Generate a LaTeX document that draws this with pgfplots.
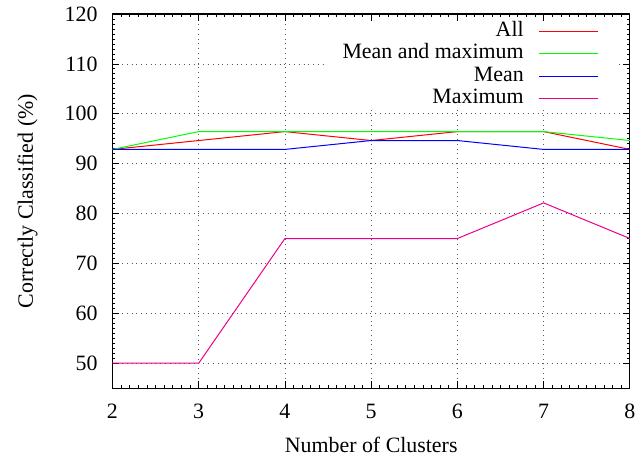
\documentclass[border=0pt]{standalone}
\usepackage{pgfplots}
\pgfplotsset{compat=1.18}
\usepackage{fontspec}
\setmainfont{Liberation Serif}
\begin{document}
\begin{tikzpicture}
\begin{axis}[
  name=ax,
  scale only axis,
  width=260pt, height=188pt,
  xmin=2, xmax=8, ymin=45, ymax=120,
  xtick={2,3,4,5,6,7,8},
  ytick={50,60,70,80,90,100,110,120},
  minor x tick num=9,
  minor y tick num=9,
  tick align=inside,
  major tick length=3.5pt,
  minor tick length=1.4pt,
  tick style={black, line width=0.4pt},
  axis line style={black, line width=0.6pt},
  grid=major,
  major grid style={dotted, gray!70!black, line width=0.4pt},
  /pgf/number format/assume math mode=true,
  tick label style={font=\fontsize{11}{13}\selectfont},
  xticklabel style={yshift=-4.5pt},
  yticklabel style={xshift=-4pt},
  label style={font=\fontsize{11}{13}\selectfont},
  xlabel={Number of Clusters},
  ylabel={Correctly Classified (\%)},
  xlabel style={at={(axis description cs:0.5,-0.1729)}, anchor=base},
  ylabel style={at={(axis description cs:-0.1538,0.5)}, anchor=base, rotate=0},
  legend plot pos=right,
  legend cell align=right,
  legend image code/.code={\draw[#1] (0pt,0pt) -- (29.5pt,0pt);},
  legend style={draw=none, fill=white, at={(rel axis cs:0.9744,0.9809)}, anchor=north east,
    font=\fontsize{11}{13}\selectfont, row sep=1.2pt, column sep=7.5pt,
    inner xsep=9pt, inner ysep=0pt,
    nodes={inner sep=0pt, text height=7.5pt, text depth=2.5pt}},
  every axis plot/.append style={line width=0.5pt},
]
\addplot[red] coordinates {(2,92.86) (3,94.64) (4,96.43) (5,94.64) (6,96.43) (7,96.43) (8,92.86)};
\addlegendentry{All}
\addplot[green] coordinates {(2,92.86) (3,96.43) (4,96.43) (5,96.43) (6,96.43) (7,96.43) (8,94.64)};
\addlegendentry{Mean and maximum}
\addplot[blue] coordinates {(2,92.86) (3,92.86) (4,92.86) (5,94.64) (6,94.64) (7,92.86) (8,92.86)};
\addlegendentry{Mean}
\addplot[magenta] coordinates {(2,50) (3,50) (4,75) (5,75) (6,75) (7,82.14) (8,75)};
\addlegendentry{Maximum}
\end{axis}
\path ([xshift=-56.5pt,yshift=-35pt]ax.south west) rectangle ([xshift=4.35pt,yshift=6.65pt]ax.north east);
\end{tikzpicture}
\end{document}
